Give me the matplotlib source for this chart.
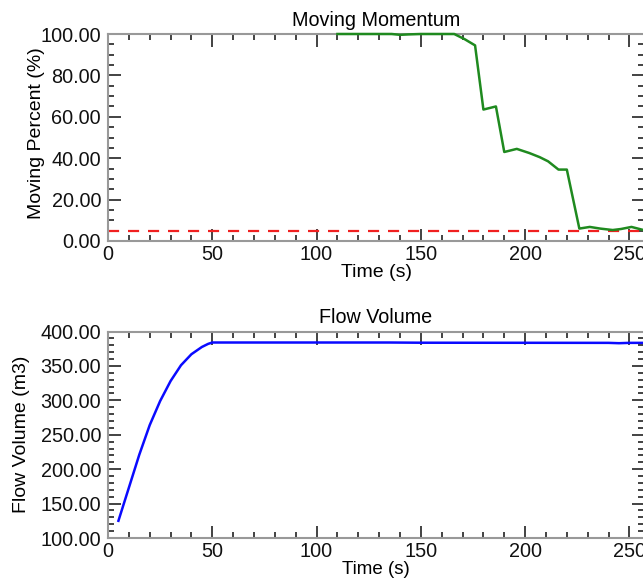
import numpy as np
import matplotlib
matplotlib.use("Agg")
import matplotlib.pyplot as plt
from matplotlib.ticker import MultipleLocator, FormatStrFormatter

plt.rcParams['font.family'] = ['Liberation Sans', 'DejaVu Sans']

# moving momentum (percent still moving)
t_mom = [110, 120, 130, 136, 140, 144, 150, 160, 166, 171, 176, 180, 186, 190,
         196, 202, 207, 211, 216, 220, 226, 231, 236, 242, 246, 251, 256]
moving = [100, 100, 100, 100, 99.6, 99.8, 100, 100, 100, 97.5, 94.5, 63.5, 65.0, 43.0,
          44.5, 42.5, 40.5, 38.5, 34.5, 34.5, 6.0, 6.8, 6.0, 5.3, 5.8, 6.8, 5.5]
threshold = 5.0

# flow volume
t_flow = [5, 10, 15, 20, 25, 30, 35, 40, 45, 48, 50, 75, 100, 135, 150, 200, 240, 245, 250, 257]
volume = [125, 173, 221, 264, 299, 328, 351, 367, 377.5, 382, 384, 384, 384, 384, 383.7,
          383.6, 383.5, 383, 383.5, 383.5]

fig = plt.figure(figsize=(6.43, 5.79), dpi=100)
ax1 = fig.add_axes([108/643, 1-241/579, 536/643, 207/579])
ax2 = fig.add_axes([108/643, 1-538/579, 536/643, 206.5/579])


def style(ax, ymaj, ymin):
    ax.set_xlim(0, 257)
    ax.xaxis.set_major_locator(MultipleLocator(50))
    ax.xaxis.set_minor_locator(MultipleLocator(10))
    ax.yaxis.set_major_locator(MultipleLocator(ymaj))
    ax.yaxis.set_minor_locator(MultipleLocator(ymin))
    ax.yaxis.set_major_formatter(FormatStrFormatter('%.2f'))
    ax.tick_params(which='both', direction='in', top=True, right=True,
                   color='#222222', labelsize=14.3, labelcolor='#111111')
    ax.tick_params(which='major', length=9, width=1.2, pad=5)
    ax.tick_params(axis='x', which='major', pad=3)
    ax.tick_params(which='minor', length=4.5, width=1.2)
    for s in ax.spines.values():
        s.set_color('#999999')
        s.set_linewidth(1.5)


ax1.plot(t_mom, moving, color='#1f8a1f', lw=1.8, clip_on=False, zorder=5)
ax1.axhline(threshold, color='#f02020', lw=1.6, ls=(0, (5, 4)))
ax1.set_ylim(0, 100)
style(ax1, 20, 5)
ax1.set_title('Moving Momentum', fontsize=14.2, pad=6)
ax1.set_xlabel('Time (s)', fontsize=14, labelpad=0)
ax1.set_ylabel('Moving Percent (%)', fontsize=14)
ax1.yaxis.set_label_coords(-0.117, 0.52)

ax2.plot(t_flow, volume, color='#0a0aff', lw=1.8, zorder=5)
ax2.set_ylim(100, 400)
style(ax2, 50, 10)
ax2.set_title('Flow Volume', fontsize=14.2, pad=6)
ax2.set_xlabel('Time (s)', fontsize=13.5, labelpad=0)
ax2.set_ylabel('Flow Volume (m3)', fontsize=14)
ax2.yaxis.set_label_coords(-0.146, 0.5)

fig.savefig('out.png', dpi=100)
